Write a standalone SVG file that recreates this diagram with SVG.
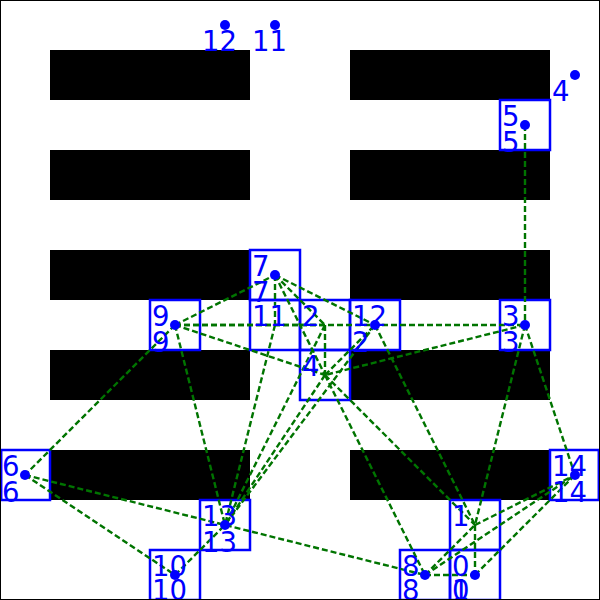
<svg xmlns="http://www.w3.org/2000/svg" width="600" height="600" viewBox="0 0 600 600">
<style>
.bar{fill:#000}
.box{fill:none;stroke:#0000ff;stroke-width:2.5}
.dot{fill:#0000ff}
.lbl{fill:#0000ff;font-family:"DejaVu Sans",sans-serif;font-size:27.5px}
#edges line{stroke:#007400;stroke-width:2.4;stroke-dasharray:6,3}
</style>
<rect x="0" y="0" width="600" height="600" fill="#fff"/>
<g id="bars">
<rect class="bar" x="50" y="50" width="200" height="50"/>
<rect class="bar" x="350" y="50" width="200" height="50"/>
<rect class="bar" x="50" y="150" width="200" height="50"/>
<rect class="bar" x="350" y="150" width="200" height="50"/>
<rect class="bar" x="50" y="250" width="200" height="50"/>
<rect class="bar" x="350" y="250" width="200" height="50"/>
<rect class="bar" x="50" y="350" width="200" height="50"/>
<rect class="bar" x="350" y="350" width="200" height="50"/>
<rect class="bar" x="50" y="450" width="200" height="50"/>
<rect class="bar" x="350" y="450" width="200" height="50"/>
</g>
<g id="boxes">
<rect class="box" x="450" y="550" width="50" height="50"/>
<rect class="box" x="450" y="500" width="50" height="50"/>
<rect class="box" x="300" y="300" width="50" height="50"/>
<rect class="box" x="500" y="300" width="50" height="50"/>
<rect class="box" x="300" y="350" width="50" height="50"/>
<rect class="box" x="500" y="100" width="50" height="50"/>
<rect class="box" x="1.2" y="450" width="48.8" height="50"/>
<rect class="box" x="250" y="250" width="50" height="50"/>
<rect class="box" x="400" y="550" width="50" height="50"/>
<rect class="box" x="150" y="300" width="50" height="50"/>
<rect class="box" x="150" y="550" width="50" height="50"/>
<rect class="box" x="250" y="300" width="50" height="50"/>
<rect class="box" x="350" y="300" width="50" height="50"/>
<rect class="box" x="200" y="500" width="50" height="50"/>
<rect class="box" x="550" y="450" width="48.8" height="50"/>
</g>
<g id="edges">
<line x1="525" y1="125" x2="525" y2="325"/>
<line x1="525" y1="325" x2="475" y2="525"/>
<line x1="525" y1="325" x2="575" y2="475"/>
<line x1="525" y1="325" x2="325" y2="375"/>
<line x1="175" y1="325" x2="525" y2="325"/>
<line x1="175" y1="325" x2="325" y2="325"/>
<line x1="175" y1="325" x2="25" y2="475"/>
<line x1="175" y1="325" x2="225" y2="525"/>
<line x1="175" y1="325" x2="325" y2="375"/>
<line x1="175" y1="325" x2="275" y2="275"/>
<line x1="275" y1="275" x2="275" y2="325"/>
<line x1="275" y1="275" x2="375" y2="325"/>
<line x1="275" y1="275" x2="325" y2="325"/>
<line x1="275" y1="275" x2="325" y2="375"/>
<line x1="275" y1="325" x2="225" y2="525"/>
<line x1="325" y1="325" x2="325" y2="375"/>
<line x1="325" y1="325" x2="225" y2="525"/>
<line x1="325" y1="375" x2="375" y2="325"/>
<line x1="325" y1="375" x2="225" y2="525"/>
<line x1="375" y1="325" x2="225" y2="525"/>
<line x1="325" y1="375" x2="425" y2="575"/>
<line x1="325" y1="375" x2="475" y2="525"/>
<line x1="375" y1="325" x2="475" y2="525"/>
<line x1="25" y1="475" x2="425" y2="575"/>
<line x1="25" y1="475" x2="175" y2="575"/>
<line x1="175" y1="575" x2="225" y2="525"/>
<line x1="425" y1="575" x2="475" y2="575"/>
<line x1="425" y1="575" x2="475" y2="525"/>
<line x1="425" y1="575" x2="575" y2="475"/>
<line x1="475" y1="575" x2="575" y2="475"/>
<line x1="475" y1="525" x2="575" y2="475"/>
<line x1="475" y1="525" x2="475" y2="575"/>
</g>
<g id="dots">
<circle class="dot" cx="475" cy="575" r="5"/>
<circle class="dot" cx="525" cy="325" r="5"/>
<circle class="dot" cx="375" cy="325" r="5"/>
<circle class="dot" cx="575" cy="75" r="5"/>
<circle class="dot" cx="525" cy="125" r="5"/>
<circle class="dot" cx="25" cy="475" r="5"/>
<circle class="dot" cx="275" cy="275" r="5"/>
<circle class="dot" cx="425" cy="575" r="5"/>
<circle class="dot" cx="175" cy="325" r="5"/>
<circle class="dot" cx="175" cy="575" r="5"/>
<circle class="dot" cx="275" cy="25" r="5"/>
<circle class="dot" cx="225" cy="25" r="5"/>
<circle class="dot" cx="225" cy="525" r="5"/>
<circle class="dot" cx="575" cy="475" r="5"/>
</g>
<g id="node-0"><text class="lbl" x="452" y="576">0</text><text class="lbl" x="452" y="600">0</text></g>
<g id="node-1"><text class="lbl" x="452" y="526">1</text><text class="lbl" x="452" y="600">1</text></g>
<g id="node-2"><text class="lbl" x="302" y="326">2</text><text class="lbl" x="352" y="352">2</text></g>
<g id="node-3"><text class="lbl" x="502" y="326">3</text><text class="lbl" x="502" y="352">3</text></g>
<g id="node-4"><text class="lbl" x="302" y="376">4</text><text class="lbl" x="552" y="101">4</text></g>
<g id="node-5"><text class="lbl" x="502" y="126">5</text><text class="lbl" x="502" y="152">5</text></g>
<g id="node-6"><text class="lbl" x="2" y="476">6</text><text class="lbl" x="2" y="502">6</text></g>
<g id="node-7"><text class="lbl" x="252" y="276">7</text><text class="lbl" x="252" y="302">7</text></g>
<g id="node-8"><text class="lbl" x="402" y="576">8</text><text class="lbl" x="402" y="600">8</text></g>
<g id="node-9"><text class="lbl" x="152" y="326">9</text><text class="lbl" x="152" y="352">9</text></g>
<g id="node-10"><text class="lbl" x="152" y="576">10</text><text class="lbl" x="152" y="600">10</text></g>
<g id="node-11"><text class="lbl" x="252" y="326">11</text><text class="lbl" x="252" y="51">11</text></g>
<g id="node-12"><text class="lbl" x="352" y="326">12</text><text class="lbl" x="202" y="51">12</text></g>
<g id="node-13"><text class="lbl" x="202" y="526">13</text><text class="lbl" x="202" y="552">13</text></g>
<g id="node-14"><text class="lbl" x="552" y="476">14</text><text class="lbl" x="552" y="502">14</text></g>
<rect x="0.5" y="0.5" width="599" height="599" fill="none" stroke="#000" stroke-width="1"/>
</svg>
